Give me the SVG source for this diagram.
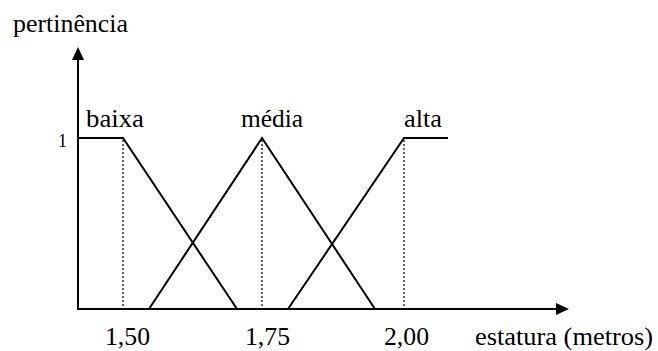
<svg xmlns="http://www.w3.org/2000/svg" width="658" height="351" viewBox="0 0 658 351">
<style>
.ax{stroke:#000;stroke-width:2;fill:none}
.mf{stroke:#000;stroke-width:2;fill:none;stroke-linejoin:miter}
.dot{stroke:#000;stroke-width:1.2;stroke-dasharray:2,2;fill:none}
</style>
<rect width="658" height="351" fill="#fff"/>
<g id="connectors">
<line class="ax" x1="78" y1="310" x2="78" y2="58"/>
<polygon points="78,47 72,60 84,60" fill="#000"/>
<line class="ax" x1="77" y1="309" x2="557" y2="309"/>
<polygon points="569,309 556,303 556,315" fill="#000"/>
<line class="dot" x1="123" y1="140" x2="123" y2="308"/>
<line class="dot" x1="262" y1="140" x2="262" y2="308"/>
<line class="dot" x1="404" y1="140" x2="404" y2="308"/>
</g>
<g font-family="Liberation Serif, Times New Roman, serif" font-size="25" fill="#000">
<g id="baixa">
<polyline class="mf" points="78,138 123,138 237,309"/>
<text x="86" y="127" textLength="58" lengthAdjust="spacingAndGlyphs">baixa</text>
</g>
<g id="media">
<polyline class="mf" points="149,309 262,138 375,309"/>
<text x="241" y="127" textLength="62" lengthAdjust="spacingAndGlyphs">média</text>
</g>
<g id="alta">
<polyline class="mf" points="288,309 404,138 448,138"/>
<text x="404" y="127" textLength="38" lengthAdjust="spacingAndGlyphs">alta</text>
</g>
<g id="labels">
<text x="13" y="32" textLength="115" lengthAdjust="spacingAndGlyphs">pertinência</text>
<text x="58" y="147" font-size="18" textLength="9" lengthAdjust="spacingAndGlyphs">1</text>
<text x="105" y="345" textLength="45" lengthAdjust="spacingAndGlyphs">1,50</text>
<text x="245" y="345" textLength="45" lengthAdjust="spacingAndGlyphs">1,75</text>
<text x="384" y="345" textLength="45" lengthAdjust="spacingAndGlyphs">2,00</text>
<text x="475" y="345" textLength="178" lengthAdjust="spacingAndGlyphs">estatura (metros)</text>
</g>
</g>
</svg>
